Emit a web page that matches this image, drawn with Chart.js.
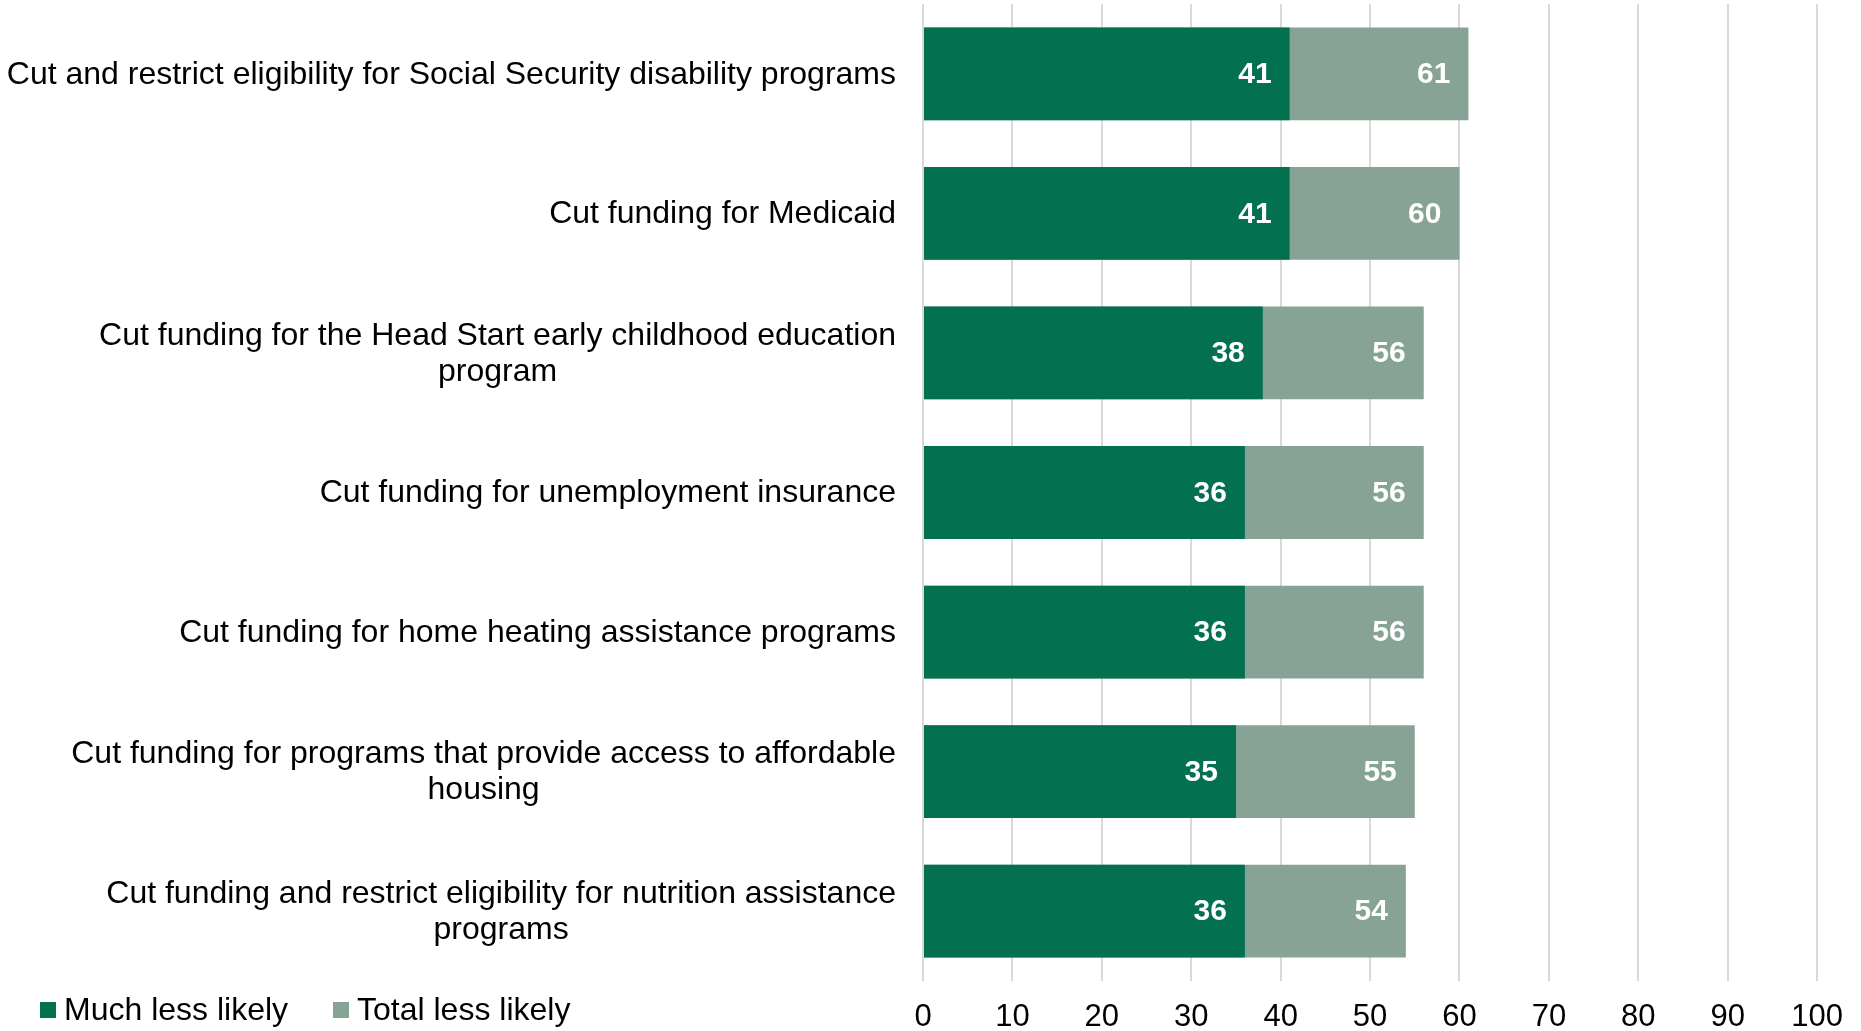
<!doctype html>
<html>
<head>
  <meta charset="utf-8" />
  <title>Less likely to support</title>
  <script src="https://cdn.jsdelivr.net/npm/chart.js"></script>
  <style>
    html, body { margin: 0; padding: 0; background: #fff; }
    #wrap { width: 1861px; height: 1031px; }
  </style>
</head>
<body>
  <div id="wrap"><canvas id="chart" width="1861" height="1031"></canvas></div>
  <script>
    // categories (multi-line entries are arrays)
    const categories = [
      ['Cut and restrict eligibility for Social Security disability programs'],
      ['Cut funding for Medicaid'],
      ['Cut funding for the Head Start early childhood education', 'program'],
      ['Cut funding for unemployment insurance'],
      ['Cut funding for home heating assistance programs'],
      ['Cut funding for programs that provide access to affordable', 'housing'],
      ['Cut funding and restrict eligibility for nutrition assistance', 'programs']
    ];
    const muchLessLikely = [41, 41, 38, 36, 36, 35, 36];
    const totalLessLikely = [61, 60, 56, 56, 56, 55, 54];
    const xTicks = [0, 10, 20, 30, 40, 50, 60, 70, 80, 90, 100];

    const FONT = '"Liberation Sans", Arial, sans-serif';
    const DARK = '#03704F';
    const LIGHT = '#86A395';

    // category labels: block right-aligned, lines centred within the block
    const categoryLabels = {
      id: 'categoryLabels',
      afterDraw(chart) {
        const ctx = chart.ctx;
        const y = chart.scales.y;
        const right = 896;
        const lh = 36;
        ctx.save();
        ctx.font = '32px ' + FONT;
        ctx.fillStyle = '#000';
        ctx.textAlign = 'center';
        ctx.textBaseline = 'middle';
        chart.data.labels.forEach((lines, i) => {
          const w = Math.max(...lines.map(l => ctx.measureText(l).width));
          const cx = right - w / 2;
          const cy = y.getPixelForValue(i) + 1;
          const y0 = cy - (lines.length - 1) * lh / 2;
          lines.forEach((l, k) => ctx.fillText(l, cx, y0 + k * lh));
        });
        ctx.restore();
      }
    };

    // white value labels at the inner end of each bar
    const valueLabels = {
      id: 'valueLabels',
      afterDatasetsDraw(chart) {
        const ctx = chart.ctx;
        ctx.save();
        ctx.font = 'bold 30px ' + FONT;
        ctx.fillStyle = '#fff';
        ctx.textAlign = 'right';
        ctx.textBaseline = 'middle';
        chart.data.datasets.forEach((ds, di) => {
          chart.getDatasetMeta(di).data.forEach((bar, i) => {
            ctx.fillText(String(ds.data[i]), bar.x - 18, bar.y + 1);
          });
        });
        ctx.restore();
      }
    };

    // legend sitting at the bottom-left, level with the axis numbers
    const bottomLegend = {
      id: 'bottomLegend',
      afterDraw(chart) {
        const ctx = chart.ctx;
        const pos = [40, 333];
        ctx.save();
        ctx.font = '32px ' + FONT;
        ctx.textBaseline = 'middle';
        ctx.textAlign = 'left';
        chart.data.datasets.forEach((ds, i) => {
          ctx.fillStyle = ds.backgroundColor;
          ctx.fillRect(pos[i], 1002, 16, 16);
          ctx.fillStyle = '#000';
          ctx.fillText(ds.label, pos[i] + 24, 1011);
        });
        ctx.restore();
      }
    };

    new Chart(document.getElementById('chart'), {
      type: 'bar',
      data: {
        labels: categories,
        datasets: [
          { label: 'Much less likely', data: muchLessLikely, backgroundColor: DARK, grouped: false, order: 1 },
          { label: 'Total less likely', data: totalLessLikely, backgroundColor: LIGHT, grouped: false, order: 2 }
        ]
      },
      options: {
        indexAxis: 'y',
        responsive: false,
        animation: false,
        maintainAspectRatio: false,
        barPercentage: 0.665,
        categoryPercentage: 1,
        layout: { padding: { left: 923, right: 43, top: 4, bottom: 0 } },
        plugins: { legend: { display: false }, tooltip: { enabled: false } },
        scales: {
          x: {
            min: 0,
            max: 100,
            afterBuildTicks(scale) { scale.ticks = xTicks.map(v => ({ value: v })); },
            afterFit(scale) { scale.height = 50; },
            grid: { color: '#D9D9D9', lineWidth: 2, drawTicks: false },
            border: { display: false },
            ticks: { padding: 18, color: '#000', font: { family: FONT, size: 31 } }
          },
          y: {
            afterFit(scale) { scale.width = 0; },
            grid: { display: false },
            border: { display: false },
            ticks: { display: false }
          }
        }
      },
      plugins: [categoryLabels, valueLabels, bottomLegend]
    });
  </script>
</body>
</html>
